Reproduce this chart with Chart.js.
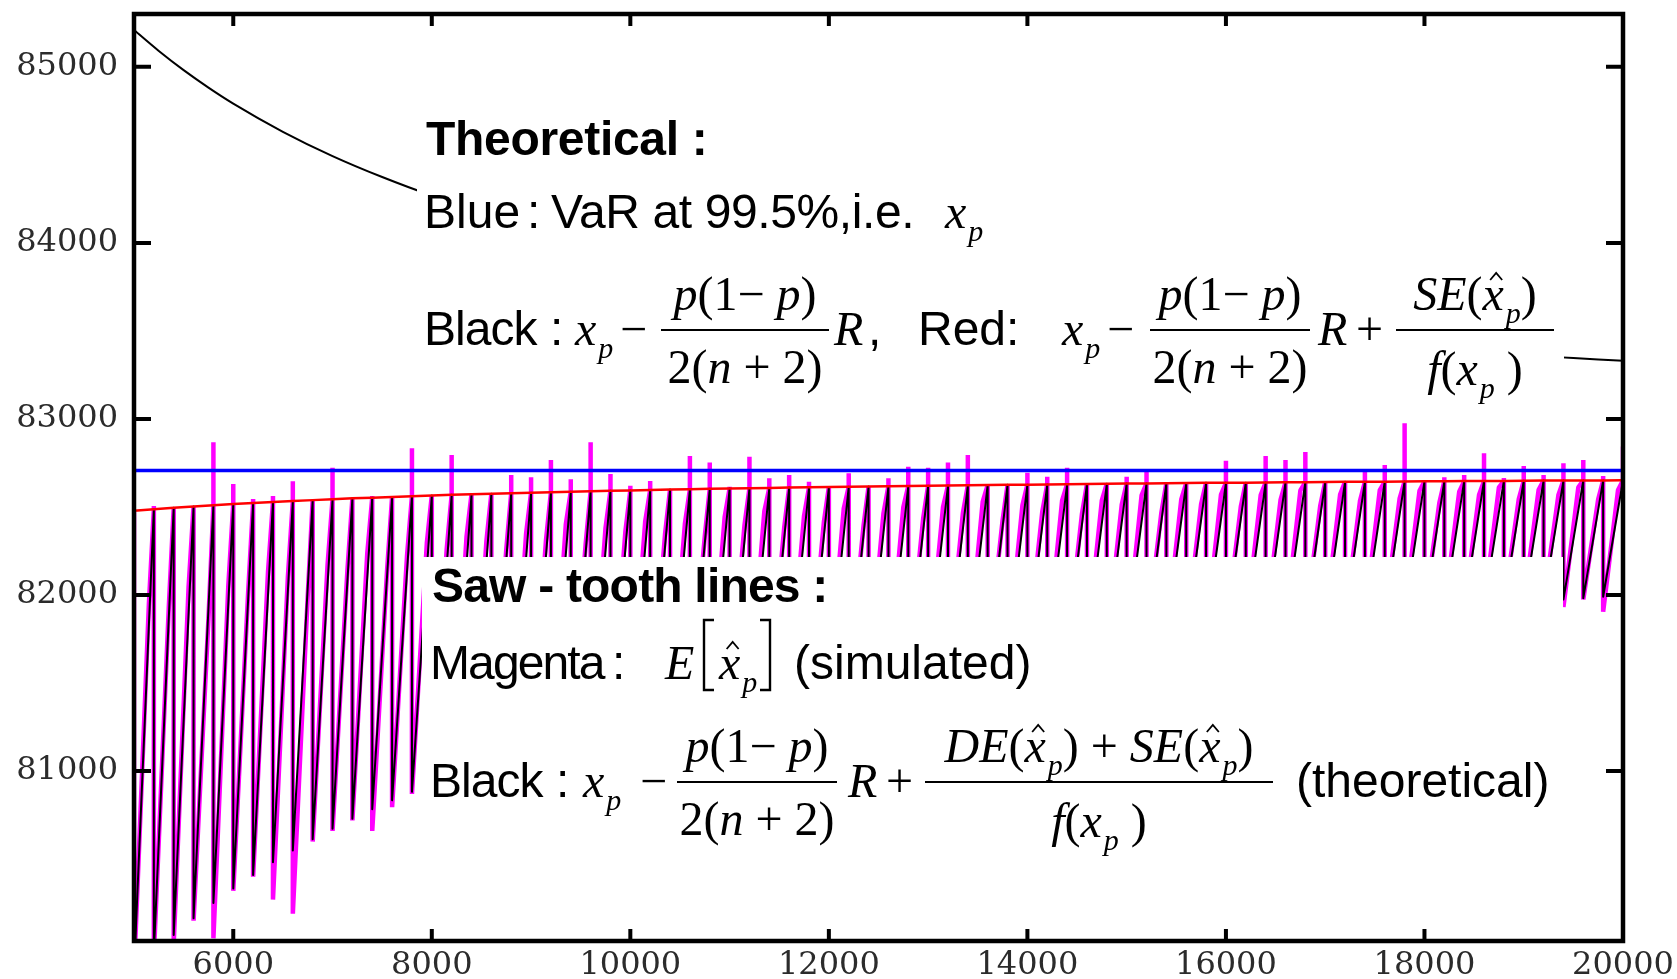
<!DOCTYPE html>
<html>
<head>
<meta charset="utf-8">
<script src="https://cdn.jsdelivr.net/npm/chart.js@4.4.1/dist/chart.umd.min.js"></script>
<style>
  html, body { margin: 0; padding: 0; background: #fff; }
  #wrap { width: 1677px; height: 979px; position: relative; }
</style>
</head>
<body>
<div id="wrap"><canvas id="varChart"></canvas></div>
<script>
// sample size n at every saw-tooth peak
const toothN = [
  5000, 5200, 5400, 5600, 5800, 6000, 6200, 6400, 6600, 6800,
  7000, 7200, 7400, 7600, 7800, 8000, 8200, 8400, 8600, 8800,
  9000, 9200, 9400, 9600, 9800, 10000, 10200, 10400, 10600, 10800,
  11000, 11200, 11400, 11600, 11800, 12000, 12200, 12400, 12600, 12800,
  13000, 13200, 13400, 13600, 13800, 14000, 14200, 14400, 14600, 14800,
  15000, 15200, 15400, 15600, 15800, 16000, 16200, 16400, 16600, 16800,
  17000, 17200, 17400, 17600, 17800, 18000, 18200, 18400, 18600, 18800,
  19000, 19200, 19400, 19600, 19800, 20000
];

// theoretical peak of each tooth (red curve)
const peakVals = [
  82478, 82487, 82495, 82503, 82510, 82517, 82523, 82529, 82534, 82539,
  82544, 82549, 82553, 82557, 82561, 82565, 82569, 82572, 82575, 82578,
  82581, 82584, 82587, 82589, 82592, 82594, 82596, 82599, 82601, 82603,
  82605, 82606, 82608, 82610, 82612, 82613, 82615, 82616, 82618, 82619,
  82621, 82622, 82623, 82625, 82626, 82627, 82628, 82629, 82630, 82632,
  82633, 82634, 82635, 82636, 82637, 82637, 82638, 82639, 82640, 82641,
  82642, 82643, 82643, 82644, 82645, 82646, 82646, 82647, 82648, 82648,
  82649, 82650, 82650, 82651, 82651, 82652
];

// theoretical value just after each peak (bottom of the tooth)
const troughVals = [
  79858, 79968, 80069, 80164, 80251, 80333, 80410, 80482, 80549, 80613,
  80673, 80729, 80783, 80834, 80882, 80927, 80971, 81012, 81052, 81090,
  81126, 81160, 81193, 81225, 81255, 81284, 81312, 81339, 81365, 81390,
  81414, 81437, 81459, 81481, 81502, 81522, 81541, 81560, 81578, 81596,
  81613, 81630, 81646, 81661, 81677, 81691, 81706, 81720, 81733, 81746,
  81759, 81772, 81784, 81796, 81807, 81819, 81830, 81840, 81851, 81861,
  81871, 81881, 81890, 81900, 81909, 81918, 81926, 81935, 81943, 81951,
  81959, 81967, 81975, 81982, 81990
];

// simulated E[x_p]: highest value at each peak
const magSpike = [
  82470, 82506, 82480, 82450, 82868, 82631, 82545, 82562, 82646, 82520,
  82723, 82540, 82562, 82550, 82834, 82560, 82795, 82570, 82575, 82682,
  82669, 82767, 82657, 82867, 82688, 82621, 82648, 82597, 82790, 82752,
  82615, 82786, 82663, 82682, 82644, 82610, 82692, 82615, 82663, 82729,
  82723, 82752, 82795, 82620, 82620, 82695, 82672, 82723, 82628, 82628,
  82672, 82701, 82630, 82632, 82636, 82763, 82636, 82790, 82767, 82812,
  82640, 82640, 82701, 82739, 82975, 82643, 82669, 82682, 82805, 82665,
  82733, 82682, 82748, 82767, 82676, 82843
];

// simulated: lowest value right after each peak
const magLow = [
  79850, 79950, 80020, 80150, 80050, 80320, 80400, 80270, 80190, 80600,
  80660, 80720, 80660, 80795, 80870, 80900, 80950, 81000, 81020, 81080,
  81100, 81150, 81170, 81210, 81240, 81270, 81290, 81330, 81350, 81370,
  81400, 81420, 81440, 81470, 81490, 81500, 81530, 81540, 81560, 81580,
  81600, 81610, 81630, 81640, 81660, 81680, 81690, 81700, 81720, 81730,
  81740, 81760, 81770, 81780, 81790, 81800, 81820, 81830, 81840, 81850,
  81860, 81870, 81880, 81890, 81900, 81905, 81915, 81920, 81930, 81940,
  81950, 81955, 81932, 81975, 81905
];

// simulated: value three quarters of the way up each tooth
const KNEE = 150;
const magKnee = [
  81950, 81925, 82046, 81865, 82052, 82017, 82131, 82102, 81993, 82173,
  82141, 82238, 82145, 82220, 82295, 82260, 82333, 82305, 82257, 82349,
  82310, 82401, 82290, 82381, 82360, 82419, 82348, 82406, 82334, 82442,
  82398, 82476, 82383, 82450, 82416, 82492, 82398, 82464, 82499, 82435,
  82500, 82465, 82531, 82425, 82510, 82474, 82538, 82463, 82538, 82512,
  82566, 82470, 82543, 82517, 82570, 82503, 82567, 82540, 82594, 82507,
  82570, 82533, 82596, 82549, 82592, 82524, 82587, 82570, 82612, 82545,
  82598, 82570, 82612, 82544, 82597
];

// smooth black curve
const curveN = [5000, 5250, 5500, 5750, 6000, 6500, 7000, 7500, 8000, 9000,
  10000, 12000, 14000, 16000, 18000, 19000, 19500, 20000];
const curveVals = [85209, 85090, 84981, 84882, 84791, 84631, 84493, 84374, 84269, 84095,
  83956, 83747, 83598, 83486, 83399, 83362, 83346, 83330];

// VaR at 99.5%
const VAR = 82707;

// axis ticks
const xTickVals = [6000, 8000, 10000, 12000, 14000, 16000, 18000, 20000];
const yTickVals = [81000, 82000, 83000, 84000, 85000];

function sawBlack() {
  const pts = [];
  for (let k = 0; k < troughVals.length; k++) {
    pts.push({ x: toothN[k], y: peakVals[k] });
    pts.push({ x: toothN[k], y: troughVals[k] });
  }
  const last = toothN.length - 1;
  pts.push({ x: toothN[last], y: peakVals[last] });
  return pts;
}

function sawMagenta() {
  const pts = [];
  for (let k = 0; k < magLow.length; k++) {
    if (k > 0) pts.push({ x: toothN[k], y: peakVals[k] });
    pts.push({ x: toothN[k], y: magSpike[k] });
    pts.push({ x: toothN[k], y: magLow[k] });
    pts.push({ x: toothN[k] + KNEE, y: magKnee[k] });
  }
  const last = toothN.length - 1;
  pts.push({ x: toothN[last], y: peakVals[last] });
  pts.push({ x: toothN[last], y: magSpike[last] });
  return pts;
}

// ---- text helpers for the formula boxes ----
const SANS = '"Liberation Sans", Arial, sans-serif';
const SERIF = '"Liberation Serif", "Times New Roman", serif';
const MATH = 48, SUB = 30, SUBDROP = 13;

function mathTokens(src) {
  const out = [];
  for (let i = 0; i < src.length; i++) {
    let c = src[i], sub = false, hat = false;
    if (c === '_') { sub = true; c = src[++i]; }
    if (c === '^') { hat = true; c = src[++i]; }
    out.push({ c, sub, hat, it: /[A-Za-z]/.test(c) });
  }
  return out;
}

function drawMath(ctx, src, x, y, dry) {
  let cx = x;
  for (const t of mathTokens(src)) {
    const size = t.sub ? SUB : MATH;
    ctx.font = (t.it ? 'italic ' : '') + size + 'px ' + SERIF;
    if (t.sub) cx += 2;
    const w = ctx.measureText(t.c).width;
    if (!dry) {
      ctx.fillText(t.c, cx, y + (t.sub ? SUBDROP : 0));
      if (t.hat) {
        const hx = cx + w / 2 + 3, hy = y - 30;
        ctx.lineWidth = 1.8;
        ctx.beginPath();
        ctx.moveTo(hx - 6, hy);
        ctx.lineTo(hx, hy - 7);
        ctx.lineTo(hx + 6, hy);
        ctx.stroke();
      }
    }
    cx += w;
  }
  return cx - x;
}

function frac(ctx, num, den, x0, x1, barY, numY, denY) {
  ctx.lineWidth = 2;
  ctx.beginPath();
  ctx.moveTo(x0, barY);
  ctx.lineTo(x1, barY);
  ctx.stroke();
  const mid = (x0 + x1) / 2;
  const wn = drawMath(ctx, num, 0, 0, true);
  drawMath(ctx, num, mid - wn / 2, numY);
  const wd = drawMath(ctx, den, 0, 0, true);
  drawMath(ctx, den, mid - wd / 2, denY);
}

function sans(ctx, s, x, y, bold, spacing) {
  ctx.font = (bold ? 'bold ' : '') + '48px ' + SANS;
  ctx.letterSpacing = (spacing || 0) + 'px';
  ctx.fillText(s, x, y);
  ctx.letterSpacing = '0px';
}

function bracket(ctx, x, top, bot, dir) {
  ctx.lineWidth = 2.4;
  ctx.beginPath();
  ctx.moveTo(x + 10 * dir, top);
  ctx.lineTo(x, top);
  ctx.lineTo(x, bot);
  ctx.lineTo(x + 10 * dir, bot);
  ctx.stroke();
}

// white boxes with the legend formulas, laid over the lines
const notes = {
  id: 'notes',
  afterDatasetsDraw(chart) {
    const ctx = chart.ctx;
    ctx.save();
    ctx.fillStyle = '#fff';
    ctx.fillRect(417, 90, 1147, 318);
    ctx.fillRect(422, 557, 1141, 386);

    ctx.fillStyle = '#000';
    ctx.strokeStyle = '#000';
    ctx.textBaseline = 'alphabetic';

    // Theoretical
    sans(ctx, 'Theoretical :', 426, 155, true, -0.3);
    sans(ctx, 'Blue', 424, 228);
    sans(ctx, ':', 527, 228);
    sans(ctx, 'VaR at 99.5%,i.e.', 551, 228, false, -0.4);
    drawMath(ctx, 'x_p', 945, 228);

    sans(ctx, 'Black', 424, 345, false, -1);
    sans(ctx, ':', 550, 345);
    drawMath(ctx, 'x_p', 575, 345);
    drawMath(ctx, '−', 620, 345);
    frac(ctx, 'p(1− p)', '2(n + 2)', 661, 829, 330, 310, 383);
    drawMath(ctx, 'R', 834, 345);
    sans(ctx, ',', 868, 345);
    sans(ctx, 'Red:', 918, 345);
    drawMath(ctx, 'x_p', 1062, 345);
    drawMath(ctx, '−', 1107, 345);
    frac(ctx, 'p(1− p)', '2(n + 2)', 1150, 1310, 330, 310, 383);
    drawMath(ctx, 'R', 1318, 345);
    drawMath(ctx, '+', 1356, 345);
    frac(ctx, 'SE(^x_p)', 'f(x_p )', 1396, 1554, 330, 310, 385);

    // Saw-tooth lines
    sans(ctx, 'Saw - tooth lines :', 432, 602, true, -0.8);
    sans(ctx, 'Magenta', 430, 679, false, -1.9);
    sans(ctx, ':', 612, 679);
    drawMath(ctx, 'E', 665, 679);
    bracket(ctx, 704, 620, 690, 1);
    drawMath(ctx, '^x_p', 719, 679);
    bracket(ctx, 770, 620, 690, -1);
    sans(ctx, '(simulated)', 794, 679);

    sans(ctx, 'Black', 430, 797, false, -1);
    sans(ctx, ':', 556, 797);
    drawMath(ctx, 'x_p', 583, 797);
    drawMath(ctx, '−', 640, 797);
    frac(ctx, 'p(1− p)', '2(n + 2)', 677, 837, 782, 762, 835);
    drawMath(ctx, 'R', 848, 797);
    drawMath(ctx, '+', 886, 797);
    frac(ctx, 'DE(^x_p) + SE(^x_p)', 'f(x_p )', 925, 1273, 782, 762, 837);
    sans(ctx, '(theoretical)', 1296, 797);
    ctx.restore();
  }
};

// closed box with inward ticks on all four sides
const frame = {
  id: 'frame',
  afterDraw(chart) {
    const { ctx, chartArea: a, scales: { x, y } } = chart;
    ctx.save();
    ctx.strokeStyle = '#000';
    ctx.lineWidth = 4.5;
    ctx.strokeRect(a.left, a.top, a.right - a.left, a.bottom - a.top);
    ctx.lineWidth = 4;
    ctx.beginPath();
    x.ticks.forEach(t => {
      const px = x.getPixelForValue(t.value);
      ctx.moveTo(px, a.bottom); ctx.lineTo(px, a.bottom - 12);
      ctx.moveTo(px, a.top); ctx.lineTo(px, a.top + 12);
    });
    y.ticks.forEach(t => {
      const py = y.getPixelForValue(t.value);
      ctx.moveTo(a.left, py); ctx.lineTo(a.left + 17, py);
      ctx.moveTo(a.right, py); ctx.lineTo(a.right - 17, py);
    });
    ctx.stroke();
    ctx.restore();
  }
};

const tickFont = { family: '"DejaVu Serif", serif', size: 32, lineHeight: 1 };

new Chart(document.getElementById('varChart'), {
  type: 'line',
  data: {
    datasets: [
      {
        label: 'Red',
        data: toothN.map((n, i) => ({ x: n, y: peakVals[i] })),
        borderColor: '#ff0000',
        borderWidth: 2.5
      },
      {
        label: 'Blue',
        data: [{ x: toothN[0], y: VAR }, { x: toothN[toothN.length - 1], y: VAR }],
        borderColor: '#0000ff',
        borderWidth: 3.5
      },
      {
        label: 'Black saw-tooth',
        data: sawBlack(),
        borderColor: '#000000',
        borderWidth: 2,
        borderJoinStyle: 'round'
      },
      {
        label: 'Magenta',
        data: sawMagenta(),
        borderColor: '#ff00ff',
        borderWidth: 4.5,
        borderJoinStyle: 'bevel'
      },
      {
        label: 'Black',
        data: curveN.map((n, i) => ({ x: n, y: curveVals[i] })),
        borderColor: '#000000',
        borderWidth: 2,
        cubicInterpolationMode: 'monotone'
      }
    ]
  },
  options: {
    responsive: true,
    maintainAspectRatio: false,
    animation: false,
    layout: { padding: { top: 14, right: 54, left: 0, bottom: 0 } },
    elements: { point: { radius: 0 }, line: { tension: 0, fill: false } },
    plugins: { legend: { display: false }, tooltip: { enabled: false } },
    scales: {
      x: {
        type: 'linear',
        min: 5000,
        max: 20000,
        grid: { display: false, drawTicks: false },
        border: { display: false },
        afterBuildTicks: s => { s.ticks = xTickVals.map(v => ({ value: v })); },
        ticks: {
          autoSkip: false,
          maxRotation: 0,
          padding: 9,
          color: '#2b2b2b',
          font: tickFont,
          callback: v => String(v)
        },
        afterFit: s => { s.height = 38; s.paddingLeft = 0; s.paddingRight = 0; }
      },
      y: {
        type: 'linear',
        min: 80035,
        max: 85300,
        grid: { display: false, drawTicks: false },
        border: { display: false },
        afterBuildTicks: s => { s.ticks = yTickVals.map(v => ({ value: v })); },
        ticks: {
          autoSkip: false,
          padding: 16,
          color: '#2b2b2b',
          font: tickFont,
          callback: v => String(v)
        },
        afterFit: s => { s.width = 134; s.paddingTop = 0; s.paddingBottom = 0; }
      }
    }
  },
  plugins: [notes, frame]
});
</script>
</body>
</html>
